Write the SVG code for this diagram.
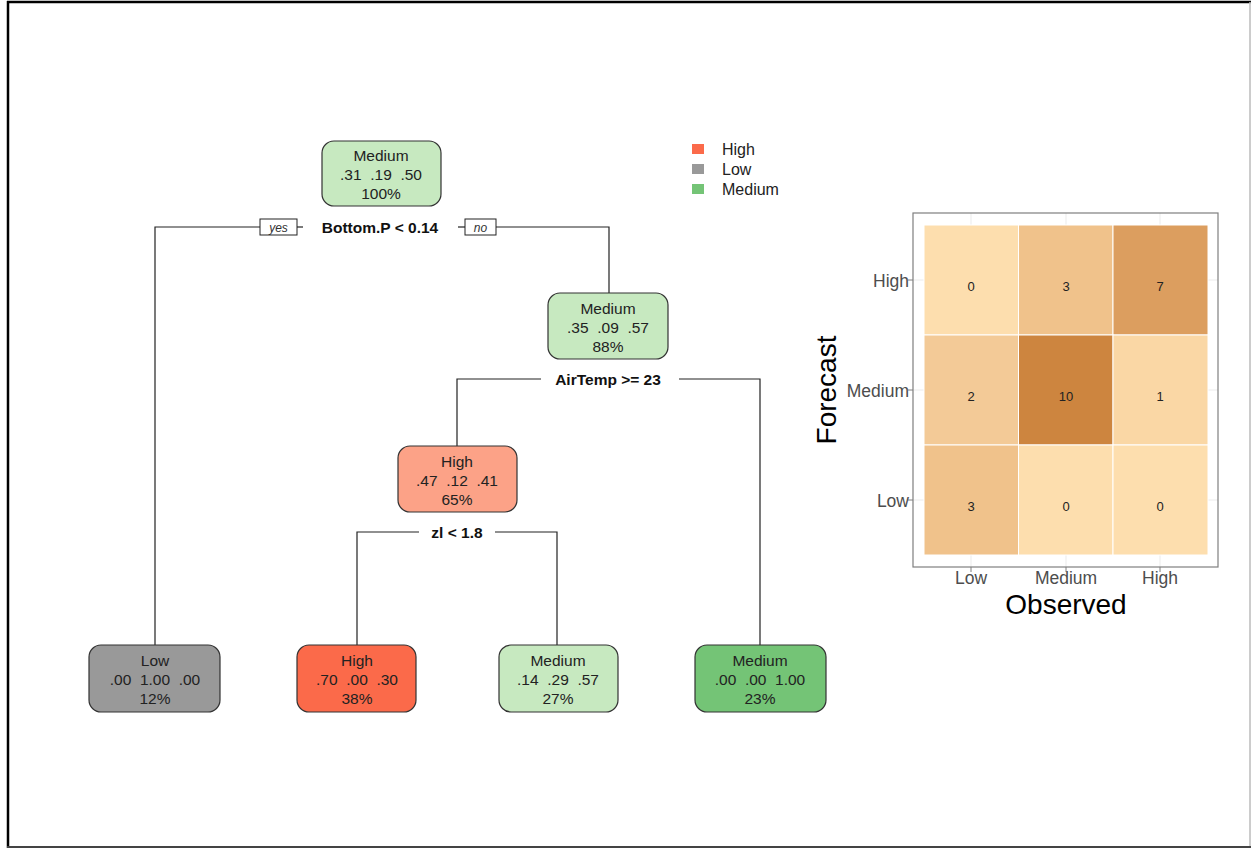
<svg xmlns="http://www.w3.org/2000/svg" width="1251" height="848" viewBox="0 0 1251 848">
<style>
.node rect{stroke:#333;stroke-width:1.2}
.nt{font-family:"Liberation Sans",Arial,sans-serif;font-size:15.5px;fill:#222;text-anchor:middle;white-space:pre}
.split{font-family:"Liberation Sans",Arial,sans-serif;font-size:15.5px;font-weight:bold;fill:#111;text-anchor:middle}
.yn{font-family:"Liberation Sans",Arial,sans-serif;font-size:12px;font-style:italic;fill:#333;text-anchor:middle}
.conn line,.conn polyline{stroke:#222;stroke-width:1.2;fill:none}
.leg{font-family:"Liberation Sans",Arial,sans-serif;font-size:16px;fill:#222}
.cell{font-family:"Liberation Sans",Arial,sans-serif;font-size:13px;fill:#222;text-anchor:middle}
.ax{font-family:"Liberation Sans",Arial,sans-serif;font-size:17.5px;fill:#4D4D4D}
.title{font-family:"Liberation Sans",Arial,sans-serif;font-size:28px;fill:#000;text-anchor:middle}
.grid{stroke:#EBEBEB;stroke-width:1}
.tile{stroke:#fff;stroke-width:1}
</style>
<rect x="0" y="0" width="1251" height="848" fill="#fff"/>
<!-- frame -->
<line x1="8" y1="1" x2="8" y2="848" stroke="#000" stroke-width="2.5"/>
<line x1="7" y1="2" x2="1251" y2="2" stroke="#000" stroke-width="2.5"/>
<line x1="1250" y1="2" x2="1250" y2="848" stroke="#bbb" stroke-width="1.5"/>
<line x1="7" y1="847" x2="1251" y2="847" stroke="#444" stroke-width="2"/>

<g id="connectors" class="conn">
<polyline points="155,645 155,227 260,227"/>
<line x1="297" y1="227" x2="303" y2="227"/>
<line x1="458" y1="227" x2="465" y2="227"/>
<polyline points="496,227 609,227 609,293"/>
<polyline points="457,446 457,379 541,379"/>
<polyline points="679,379 760,379 760,645"/>
<polyline points="357,645 357,532 419,532"/>
<polyline points="495,532 557,532 557,645"/>
<rect x="260" y="219" width="37" height="16" fill="#fff" stroke="#222" stroke-width="1"/>
<text class="yn" x="278.5" y="231.5">yes</text>
<rect x="465" y="219" width="31" height="16" fill="#fff" stroke="#222" stroke-width="1"/>
<text class="yn" x="480.5" y="231.5">no</text>
<text class="split" x="380" y="233">Bottom.P &lt; 0.14</text>
<text class="split" x="608" y="385">AirTemp &gt;= 23</text>
<text class="split" x="457" y="538">zl &lt; 1.8</text>
</g>

<g id="node-root" class="node">
<rect x="322" y="141" width="119" height="65" rx="12" fill="#C7E9C0"/>
<text class="nt" x="381" y="161">Medium</text>
<text class="nt" x="381" y="180" xml:space="preserve">.31  .19  .50</text>
<text class="nt" x="381" y="199">100%</text>
</g>
<g id="node-2" class="node">
<rect x="548" y="293" width="120" height="66" rx="12" fill="#C7E9C0"/>
<text class="nt" x="608" y="314">Medium</text>
<text class="nt" x="608" y="333" xml:space="preserve">.35  .09  .57</text>
<text class="nt" x="608" y="352">88%</text>
</g>
<g id="node-3" class="node">
<rect x="398" y="446" width="119" height="66" rx="12" fill="#FCA287"/>
<text class="nt" x="457" y="467">High</text>
<text class="nt" x="457" y="486" xml:space="preserve">.47  .12  .41</text>
<text class="nt" x="457" y="505">65%</text>
</g>
<g id="leaf-low" class="node">
<rect x="89" y="645" width="131" height="67" rx="12" fill="#999999"/>
<text class="nt" x="155" y="666">Low</text>
<text class="nt" x="155" y="685" xml:space="preserve">.00  1.00  .00</text>
<text class="nt" x="155" y="704">12%</text>
</g>
<g id="leaf-high" class="node">
<rect x="297" y="645" width="119" height="67" rx="12" fill="#FB6A4A"/>
<text class="nt" x="357" y="666">High</text>
<text class="nt" x="357" y="685" xml:space="preserve">.70  .00  .30</text>
<text class="nt" x="357" y="704">38%</text>
</g>
<g id="leaf-medium1" class="node">
<rect x="499" y="645" width="119" height="67" rx="12" fill="#C7E9C0"/>
<text class="nt" x="558" y="666">Medium</text>
<text class="nt" x="558" y="685" xml:space="preserve">.14  .29  .57</text>
<text class="nt" x="558" y="704">27%</text>
</g>
<g id="leaf-medium2" class="node">
<rect x="695" y="645" width="131" height="67" rx="12" fill="#74C476"/>
<text class="nt" x="760" y="666">Medium</text>
<text class="nt" x="760" y="685" xml:space="preserve">.00  .00  1.00</text>
<text class="nt" x="760" y="704">23%</text>
</g>

<g id="legend">
<rect x="692" y="144" width="12" height="10" fill="#FB6A4A"/>
<rect x="692" y="164" width="12" height="10" fill="#999999"/>
<rect x="692" y="184" width="12" height="10" fill="#74C476"/>
<text class="leg" x="722" y="155">High</text>
<text class="leg" x="722" y="175">Low</text>
<text class="leg" x="722" y="195">Medium</text>
</g>

<g id="heatmap">
<rect x="913" y="213" width="305" height="354" fill="#fff"/>
<line class="grid" x1="971" y1="213" x2="971" y2="567"/>
<line class="grid" x1="1066" y1="213" x2="1066" y2="567"/>
<line class="grid" x1="1160" y1="213" x2="1160" y2="567"/>
<line class="grid" x1="913" y1="280" x2="1218" y2="280"/>
<line class="grid" x1="913" y1="390" x2="1218" y2="390"/>
<line class="grid" x1="913" y1="500" x2="1218" y2="500"/>
<rect class="tile" x="924" y="225" width="94.5" height="110" fill="#FDDEAE"/>
<rect class="tile" x="1018.5" y="225" width="94.5" height="110" fill="#F0C28B"/>
<rect class="tile" x="1113" y="225" width="95" height="110" fill="#DC9E5F"/>
<rect class="tile" x="924" y="335" width="94.5" height="110" fill="#F3CA97"/>
<rect class="tile" x="1018.5" y="335" width="94.5" height="110" fill="#CD853F"/>
<rect class="tile" x="1113" y="335" width="95" height="110" fill="#FAD7A5"/>
<rect class="tile" x="924" y="445" width="94.5" height="110" fill="#F0C28B"/>
<rect class="tile" x="1018.5" y="445" width="94.5" height="110" fill="#FDDEAE"/>
<rect class="tile" x="1113" y="445" width="95" height="110" fill="#FDDEAE"/>
<text class="cell" x="971" y="291">0</text>
<text class="cell" x="1066" y="291">3</text>
<text class="cell" x="1160" y="291">7</text>
<text class="cell" x="971" y="401">2</text>
<text class="cell" x="1066" y="401">10</text>
<text class="cell" x="1160" y="401">1</text>
<text class="cell" x="971" y="511">3</text>
<text class="cell" x="1066" y="511">0</text>
<text class="cell" x="1160" y="511">0</text>
<rect x="913" y="213" width="305" height="354" fill="none" stroke="#7F7F7F" stroke-width="1.2"/>
<line x1="908" y1="280" x2="913" y2="280" stroke="#7F7F7F"/>
<line x1="908" y1="390" x2="913" y2="390" stroke="#7F7F7F"/>
<line x1="908" y1="500" x2="913" y2="500" stroke="#7F7F7F"/>
<line x1="971" y1="567" x2="971" y2="572" stroke="#7F7F7F"/>
<line x1="1066" y1="567" x2="1066" y2="572" stroke="#7F7F7F"/>
<line x1="1160" y1="567" x2="1160" y2="572" stroke="#7F7F7F"/>
<text class="ax" x="909" y="287" text-anchor="end">High</text>
<text class="ax" x="909" y="397" text-anchor="end">Medium</text>
<text class="ax" x="909" y="507" text-anchor="end">Low</text>
<text class="ax" x="971" y="584" text-anchor="middle">Low</text>
<text class="ax" x="1066" y="584" text-anchor="middle">Medium</text>
<text class="ax" x="1160" y="584" text-anchor="middle">High</text>
<text class="title" x="1066" y="614">Observed</text>
<text class="title" x="836" y="390" transform="rotate(-90 836 390)">Forecast</text>
</g>
</svg>
